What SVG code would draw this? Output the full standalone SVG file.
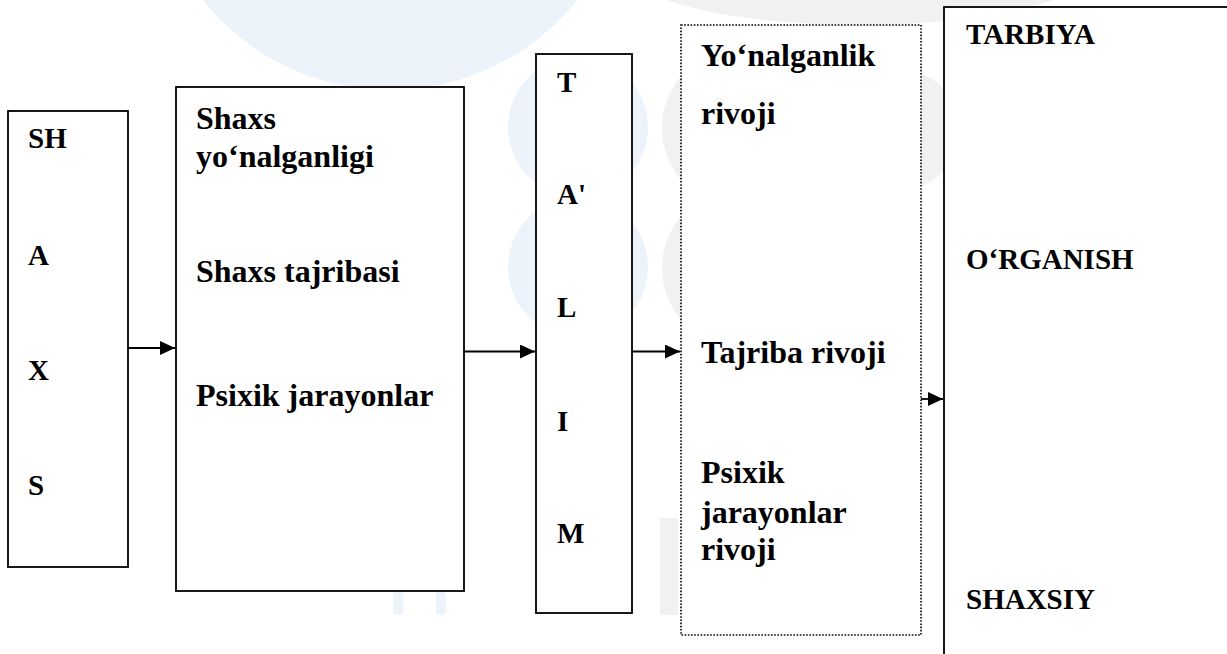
<svg xmlns="http://www.w3.org/2000/svg" width="1227" height="654" viewBox="0 0 1227 654">
  <style>
    .box { fill: #ffffff; stroke: #000000; stroke-width: 1.8; }
    .dot { fill: #ffffff; stroke: #000000; stroke-width: 1.6; stroke-dasharray: 1.6 1.6; }
    text { font-family: "Liberation Serif", "Times New Roman", serif; font-weight: bold; fill: #000000; }
    .t32 { font-size: 32px; }
    .t29 { font-size: 29px; }
    .conn { stroke: #000000; stroke-width: 1.8; fill: none; marker-end: url(#ah); }
    .wmb { fill: #edf3fa; }
    .wmg { fill: #f1f1f1; }
  </style>
  <defs>
    <marker id="ah" markerUnits="userSpaceOnUse" markerWidth="16" markerHeight="14" refX="15" refY="7" orient="auto">
      <path d="M0,0 L15,7 L0,14 Z" fill="#000000"/>
    </marker>
  </defs>
  <rect width="1227" height="654" fill="#ffffff"/>

  <g id="watermark">
    <circle class="wmb" cx="390" cy="-150" r="240"/>
    <circle class="wmb" cx="578" cy="127" r="70"/>
    <circle class="wmb" cx="578" cy="267" r="70"/>
    <circle class="wmg" cx="742" cy="128" r="80"/>
    <circle class="wmg" cx="742" cy="268" r="80"/>
    <ellipse class="wmg" cx="860" cy="-30" rx="230" ry="55"/>
    <circle class="wmg" cx="900" cy="130" r="60"/>
    <rect class="wmb" x="393" y="592" width="10" height="23" rx="4"/>
    <rect class="wmb" x="436" y="592" width="10" height="23" rx="4"/>
    <rect class="wmg" x="660" y="518" width="18" height="97"/>
  </g>

  <g id="n-shaxs">
    <rect class="box" x="8" y="111" width="120" height="456"/>
    <text class="t29" x="28" y="148">SH</text>
    <text class="t29" x="28" y="265">A</text>
    <text class="t29" x="28" y="380">X</text>
    <text class="t29" x="28" y="495">S</text>
  </g>

  <g id="n-shaxs-xususiyatlari">
    <rect class="box" x="176" y="87" width="288" height="504"/>
    <text class="t32" x="196" y="129">Shaxs</text>
    <text class="t32" x="196" y="167">yo‘nalganligi</text>
    <text class="t32" x="196" y="282">Shaxs tajribasi</text>
    <text class="t32" x="196" y="406">Psixik jarayonlar</text>
  </g>

  <g id="n-talim">
    <rect class="box" x="536" y="54" width="96" height="559"/>
    <text class="t29" x="557" y="92">T</text>
    <text class="t29" x="557" y="204">A'</text>
    <text class="t29" x="557" y="317">L</text>
    <text class="t29" x="557" y="431">I</text>
    <text class="t29" x="557" y="543">M</text>
  </g>

  <g id="n-rivoj">
    <rect class="dot" x="681" y="25" width="240" height="610"/>
    <text class="t32" x="701" y="66">Yo‘nalganlik</text>
    <text class="t32" x="701" y="124">rivoji</text>
    <text class="t32" x="701" y="363">Tajriba rivoji</text>
    <text class="t32" x="701" y="483">Psixik</text>
    <text class="t32" x="701" y="523">jarayonlar</text>
    <text class="t32" x="701" y="560">rivoji</text>
  </g>

  <g id="n-natija">
    <rect class="box" x="944" y="7" width="300" height="660"/>
    <text class="t29" x="966" y="44">TARBIYA</text>
    <text class="t29" x="966" y="269">O‘RGANISH</text>
    <text class="t29" x="966" y="609">SHAXSIY</text>
  </g>

  <g id="connectors">
    <line class="conn" x1="128" y1="348" x2="175" y2="348"/>
    <line class="conn" x1="464" y1="351.5" x2="535" y2="351.5"/>
    <line class="conn" x1="632" y1="351.5" x2="680" y2="351.5"/>
    <line class="conn" x1="921" y1="399" x2="943" y2="399"/>
  </g>
</svg>
